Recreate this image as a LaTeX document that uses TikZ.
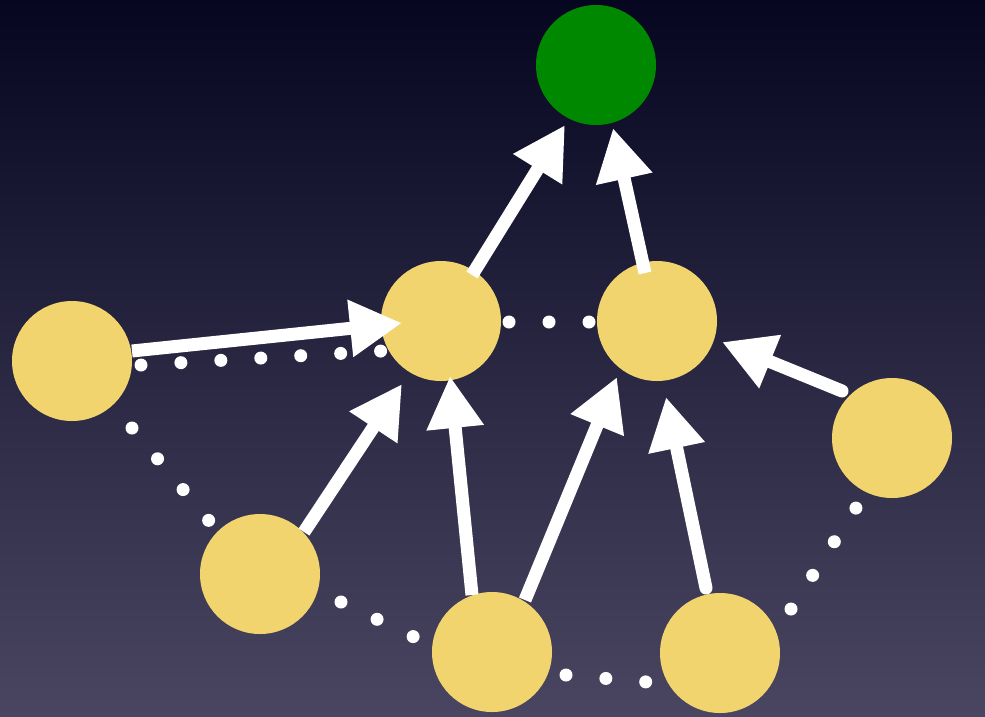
\documentclass[tikz,border=0pt]{standalone}
\usetikzlibrary{arrows.meta,calc}
\definecolor{bgtop}{RGB}{6,6,32}
\definecolor{bgbot}{RGB}{74,70,98}
\definecolor{nodeyellow}{RGB}{242,212,110}
\definecolor{nodegreen}{RGB}{0,136,0}
\begin{document}
\begin{tikzpicture}[x=1pt,y=-1pt,
  dotnode/.style={circle, minimum size=120pt, inner sep=0pt, fill=nodeyellow},
  goal/.style={circle, minimum size=120pt, inner sep=0pt, fill=nodegreen},
  arr/.style={white, line width=13pt, -{Triangle[width=54pt,length=52pt]}},
  rarr/.style={arr, line cap=round},
  dotline/.style={white, line width=13pt, line cap=round, dash pattern=on 0pt off 40pt}]
\shade[top color=bgtop, bottom color=bgbot] (0,0) rectangle (985,716);
\useasboundingbox (0,0) rectangle (985,716);

\node[goal] (G) at (596,65) {};
\node[dotnode] (A) at (441,321) {};
\node[dotnode] (B) at (657,321) {};
\node[dotnode] (L) at (72,361) {};
\node[dotnode] (R) at (892,438) {};
\node[dotnode] (C) at (260,574) {};
\node[dotnode] (D) at (492,652) {};
\node[dotnode] (E) at (720,653) {};

% dotted links
\draw[dotline] ($(L)+(69,4)$) -- ($(A)+(-59,30)$);
\draw[dotline] ($(A)+(68,1)$) -- ($(B)+(-67,1)$);
\draw[dotline] ($(L)+(60,67)$) -- ($(C)+(-50,-52)$);
\draw[dotline] ($(C)+(81,28)$) -- ($(D)+(-78,-15)$);
\draw[dotline] ($(D)+(74,23)$) -- ($(E)+(-73,29)$);
\draw[dotline] ($(E)+(71,-44)$) -- ($(R)+(-36,70)$);

% arrows
\draw[arr] ($(A)+(31,-46)$) -- ($(G)+(-31,60)$);
\draw[arr] ($(B)+(-12,-48)$) -- ($(G)+(17,63)$);
\draw[arr] ($(L)+(60,-10)$) -- ($(A)+(-39,2)$);
\draw[arr] ($(C)+(44,-42)$) -- ($(A)+(-39,63)$);
\draw[arr] ($(D)+(-20,-57)$) -- ($(A)+(9,55)$);
\draw[arr] ($(D)+(33,-52)$) -- ($(B)+(-40,56)$);
\draw[rarr] ($(E)+(-14,-65)$) -- ($(B)+(9,76)$);
\draw[rarr] ($(R)+(-50,-47)$) -- ($(B)+(65,21)$);
\end{tikzpicture}
\end{document}
